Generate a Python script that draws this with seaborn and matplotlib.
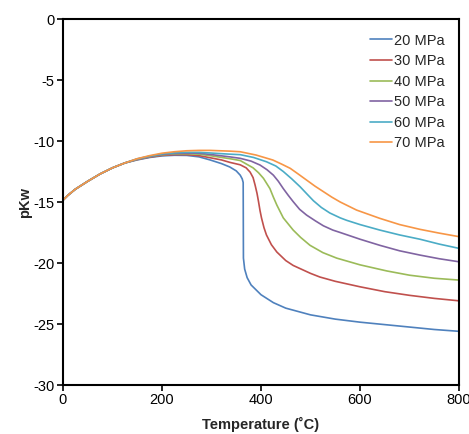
import seaborn as sns
import matplotlib.pyplot as plt
import numpy as np
import pandas as pd

# rising part shared by all curves
t_low = [0, 10, 25, 50, 75, 100, 125]
k_low = [-14.85, -14.45, -13.95, -13.3, -12.7, -12.2, -11.8]

t_20 = [150, 175, 200, 225, 250, 275, 297, 320, 337, 350, 358, 362, 364, 364.5, 367, 372, 380, 400, 425, 450, 500, 550, 600, 650, 700, 750, 800]
k_20 = [-11.55, -11.35, -11.22, -11.17, -11.18, -11.3, -11.55, -11.85, -12.13, -12.45, -12.8, -13.1, -13.4, -19.6, -20.5, -21.2, -21.8, -22.6, -23.25, -23.7, -24.25, -24.6, -24.85, -25.05, -25.25, -25.45, -25.6]

t_30 = [150, 175, 200, 225, 250, 275, 297, 320, 337, 358, 370, 378, 384, 388, 392, 395, 398, 401, 406, 411, 421, 432, 450, 465, 500, 519, 550, 600, 650, 700, 750, 800]
k_30 = [-11.52, -11.32, -11.18, -11.12, -11.12, -11.2, -11.37, -11.55, -11.75, -11.95, -12.2, -12.55, -13.0, -13.6, -14.3, -14.97, -15.7, -16.3, -17.1, -17.7, -18.5, -19.1, -19.8, -20.2, -20.85, -21.15, -21.5, -21.95, -22.35, -22.65, -22.9, -23.1]

t_40 = [150, 175, 200, 225, 250, 275, 297, 337, 358, 384, 395, 405, 418, 425, 432, 445, 465, 480, 499, 525, 553, 600, 654, 700, 750, 800]
k_40 = [-11.5, -11.28, -11.13, -11.06, -11.04, -11.08, -11.2, -11.45, -11.6, -12.2, -12.6, -13.06, -13.9, -14.6, -15.25, -16.3, -17.3, -17.9, -18.55, -19.15, -19.6, -20.15, -20.65, -21.0, -21.25, -21.4]

t_50 = [150, 175, 200, 225, 250, 275, 297, 337, 358, 380, 398, 412, 425, 435, 445, 455, 465, 478, 492, 510, 526, 545, 560, 600, 640, 680, 721, 760, 800]
k_50 = [-11.48, -11.26, -11.1, -11.02, -10.99, -11.0, -11.1, -11.3, -11.42, -11.65, -11.97, -12.35, -12.8, -13.3, -13.9, -14.45, -14.97, -15.6, -16.07, -16.55, -16.95, -17.3, -17.5, -18.05, -18.55, -19.0, -19.35, -19.65, -19.9]

t_60 = [150, 175, 200, 225, 250, 275, 297, 337, 358, 385, 411, 430, 445, 462, 479, 493, 506, 522, 539, 560, 573, 600, 640, 680, 721, 760, 800]
k_60 = [-11.46, -11.24, -11.06, -10.97, -10.93, -10.93, -10.98, -11.08, -11.12, -11.35, -11.7, -12.05, -12.5, -13.1, -13.75, -14.35, -14.9, -15.45, -15.9, -16.3, -16.5, -16.85, -17.3, -17.7, -18.05, -18.45, -18.8]

t_70 = [150, 175, 200, 225, 250, 275, 297, 337, 358, 390, 424, 442, 459, 475, 492, 509, 526, 543, 560, 593, 640, 680, 721, 760, 800]
k_70 = [-11.45, -11.2, -11.0, -10.88, -10.8, -10.77, -10.77, -10.83, -10.88, -11.15, -11.56, -11.9, -12.24, -12.7, -13.2, -13.7, -14.15, -14.6, -15.0, -15.66, -16.34, -16.85, -17.24, -17.55, -17.84]

labels = ['20 MPa', '30 MPa', '40 MPa', '50 MPa', '60 MPa', '70 MPa']
colors = ['#4F81BD', '#C0504D', '#9BBB59', '#8064A2', '#4BACC6', '#F79646']

rows = []
for lab, tt, kk in zip(labels, [t_20, t_30, t_40, t_50, t_60, t_70],
                       [k_20, k_30, k_40, k_50, k_60, k_70]):
    for t, k in zip(t_low + tt, k_low + kk):
        rows.append((lab, t, k))
df = pd.DataFrame(rows, columns=['P', 'T', 'pKw'])

sns.set_style('white')
plt.rcParams['font.family'] = ['Liberation Sans', 'DejaVu Sans']
plt.rcParams['axes.unicode_minus'] = False

fig = plt.figure(figsize=(4.69, 4.34), dpi=100)
ax = fig.add_axes([0.1343, 0.1129, 0.8444, 0.8433])

sns.lineplot(data=df, x='T', y='pKw', hue='P', palette=colors, sort=False,
             estimator=None, linewidth=1.2, ax=ax)

ax.set_xlim(0, 800)
ax.set_ylim(-30, 0)
ax.set_xticks([0, 200, 400, 600, 800])
ax.set_yticks([0, -5, -10, -15, -20, -25, -30])
ax.tick_params(axis='both', direction='out', length=4, width=1.2, labelsize=10.5,
               colors='black', bottom=True, left=True, pad=2)
for s in ax.spines.values():
    s.set_color('black')
    s.set_linewidth(1.5)

ax.set_xlabel('Temperature (˚C)', fontsize=10.5, fontweight='bold', labelpad=7)
ax.set_ylabel('pKw', fontsize=10.5, fontweight='bold', labelpad=1)

leg = ax.legend(loc='upper right', frameon=False, fontsize=10.5, handlelength=1.5,
                handletextpad=0.1, labelspacing=0.45, borderaxespad=0.6)

fig.savefig('out.png', dpi=100)
